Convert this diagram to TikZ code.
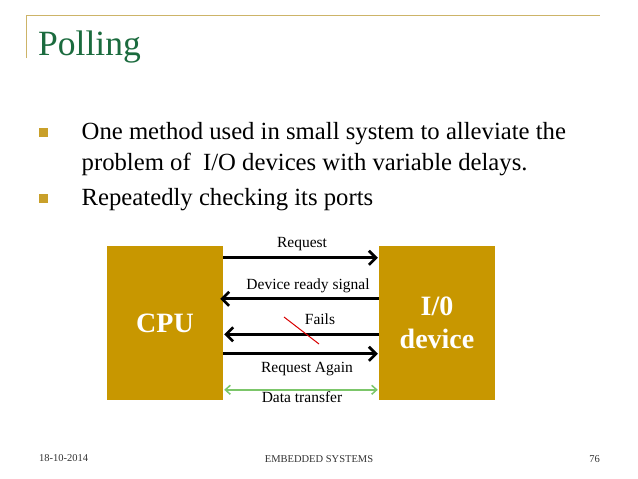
\documentclass[tikz,border=0pt]{standalone}
\usepackage{fontspec}
\setmainfont{Liberation Serif}
\usetikzlibrary{arrows.meta}
\definecolor{rulegold}{HTML}{CDB468}
\definecolor{titlegreen}{HTML}{1B6B3E}
\definecolor{bulletgold}{HTML}{C9A02A}
\definecolor{boxgold}{HTML}{C89700}
\definecolor{arrgreen}{HTML}{7CC66A}
\definecolor{footgray}{HTML}{333333}
\tikzset{
  blk/.style={fill=boxgold, draw=none, minimum width=116pt, minimum height=154pt, inner sep=0pt, text=white, font=\fontsize{28}{32}\selectfont\bfseries, align=center},
  sig/.style={line width=2.7pt, -{Straight Barb[length=7pt,width=14pt]}},
  lbl/.style={anchor=base, font=\fontsize{15.5}{18}\selectfont, inner sep=0pt},
  btxt/.style={anchor=base west, font=\fontsize{24.7}{28}\selectfont, inner sep=0pt},
  bul/.style={fill=bulletgold, draw=none, minimum size=9pt, inner sep=0pt},
  foot/.style={anchor=base, font=\fontsize{10.5}{12}\selectfont, text=footgray, inner sep=0pt}
}
\begin{document}
\begin{tikzpicture}[x=1pt,y=-1pt]
\useasboundingbox[fill=white] (0,0) rectangle (638,479);
% header rules
\coordinate (rl) at (26.7,15.7);
\coordinate (rr) at (600,15.7);
\coordinate (rb) at (26.7,58);
\draw[rulegold, line width=1.3pt] (rb) -- (rl) -- (rr);
\node[anchor=base west, inner sep=0pt, text=titlegreen, font=\fontsize{35.5}{40}\selectfont] (title) at (38,56) {Polling};
% bullets
\node[bul] (b1) at (43.5,132.5) {};
\node[btxt] (t1) at (81.5,139) {One method used in small system to alleviate the};
\node[btxt] (t2) at (81.5,170) {problem of \ I/O devices with variable delays.};
\node[bul] (b2) at (43.5,198.5) {};
\node[btxt] (t3) at (81.5,205) {Repeatedly checking its ports};
% blocks
\node[blk] (cpu) at (165,323) {CPU};
\node[blk] (io) at (437,323) {I/0\\[1pt]device};
% signals
\draw[sig] ([yshift=-12pt]cpu.north east) -- ([yshift=-12pt,xshift=-1pt]io.north west);
\draw[sig] ([yshift=-53pt]io.north west) -- ([yshift=-53pt,xshift=-3pt]cpu.north east);
\draw[sig] ([yshift=-88.5pt]io.north west) -- ([yshift=-88.5pt,xshift=1pt]cpu.north east);
\draw[sig] ([yshift=-108pt]cpu.north east) -- ([yshift=-108pt,xshift=-1pt]io.north west);
\draw[arrgreen, line width=1.5pt, {Straight Barb[length=5pt,width=9pt]}-{Straight Barb[length=5pt,width=9pt]}] ([yshift=-144pt,xshift=1pt]cpu.north east) -- ([yshift=-144pt,xshift=-1pt]io.north west);
% labels
\node[lbl] (l1) at (302,247.7) {Request};
\node[lbl] (l2) at (308,289) {Device ready signal};
\node[lbl] (l3) at (320,324) {Fails};
\node[lbl] (l4) at (307,372.7) {Request Again};
\node[lbl] (l5) at (302,402.7) {Data transfer};
\coordinate (x1) at (284,317);
\coordinate (x2) at (319,344);
\draw[red!85!black, line width=1pt] (x1) -- (x2);
% footer
\node[foot, anchor=base west] (f1) at (39,461.5) {18-10-2014};
\node[foot] (f2) at (319,462) {EMBEDDED SYSTEMS};
\node[foot, anchor=base east] (f3) at (600,462) {76};
\end{tikzpicture}
\end{document}
